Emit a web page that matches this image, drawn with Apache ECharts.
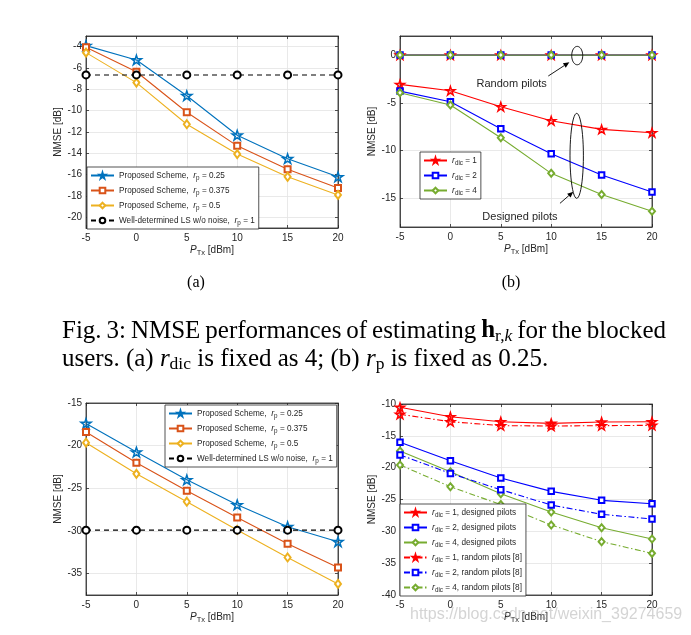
<!DOCTYPE html>
<html><head><meta charset="utf-8">
<script src="https://cdn.jsdelivr.net/npm/echarts@6/dist/echarts.min.js"></script>
<style>html,body{margin:0;padding:0;background:#fff}#c{width:691px;height:635px}</style>
</head><body><div id="c"></div><script>
// ---------- data ----------
const xValues = [-5, 0, 5, 10, 15, 20];
const xTicks = [-5, 0, 5, 10, 15, 20];
// (a) r_dic fixed as 4
const aProp025  = [-3.9, -5.25, -8.6, -12.3, -14.5, -16.2];
const aProp0375 = [-4.06, -6.35, -10.15, -13.3, -15.5, -17.25];
const aProp05   = [-4.56, -7.37, -11.27, -14.07, -16.2, -17.9];
const aLS       = [-6.65, -6.65, -6.65, -6.65, -6.65, -6.65];
const aYTicks = [-20, -18, -16, -14, -12, -10, -8, -6, -4];
// (b) r_p fixed as 0.25
const bDesigned1 = [-3.07, -3.73, -5.41, -6.87, -7.78, -8.13];
const bDesigned2 = [-3.77, -4.88, -7.71, -10.32, -12.56, -14.34];
const bDesigned4 = [-3.94, -5.23, -8.65, -12.38, -14.6, -16.36];
const bRandom1 = [0, 0, 0, 0, 0, 0];
const bRandom2 = [0, 0, 0, 0, 0, 0];
const bRandom4 = [0, 0, 0, 0, 0, 0];
const bYTicks = [-15, -10, -5, 0];
// (c)
const cProp025  = [-17.4, -20.75, -24.0, -26.93, -29.5, -31.26];
const cProp0375 = [-18.39, -22.0, -25.28, -28.43, -31.5, -34.29];
const cProp05   = [-19.65, -23.3, -26.57, -29.88, -33.1, -36.2];
const cLS       = [-29.9, -29.9, -29.9, -29.9, -29.9, -29.9];
const cYTicks = [-35, -30, -25, -20, -15];
// (d)
const dDesigned1 = [-10.52, -12.0, -12.78, -13.04, -12.83, -12.78];
const dDesigned2 = [-16.0, -18.9, -21.62, -23.72, -25.13, -25.66];
const dDesigned4 = [-17.38, -20.63, -24.08, -26.96, -29.43, -31.2];
const dRandom1 = [-11.62, -12.78, -13.4, -13.46, -13.4, -13.35];
const dRandom2 = [-18.0, -20.9, -23.46, -25.87, -27.33, -28.06];
const dRandom4 = [-19.58, -22.99, -25.8, -29.0, -31.62, -33.46];
const dYTicks = [-40, -35, -30, -25, -20, -15, -10];

// ---------- style ----------
const FONT = 'Liberation Sans';
const SERIF = 'Liberation Serif';
const AX = '#262626';
const GRIDC = '#e3e3e3';
const C_BLUE = '#0072BD', C_ORANGE = '#D95319', C_YELLOW = '#EDB120';
const C_R = '#FF0000', C_B = '#0000FF', C_G = '#77AC30';
const STAR = 'path://M50,2 L61.2,36.2 L97.6,36.2 L68.2,57.6 L79.4,92 L50,70.8 L20.6,92 L31.8,57.6 L2.4,36.2 L38.8,36.2 Z';
const DASHDOT = [6, 2.5, 1.5, 2.5];

const grids = [
  {left: 86, top: 36, width: 252, height: 192},
  {left: 400, top: 36, width: 252, height: 191},
  {left: 86, top: 403, width: 252, height: 192},
  {left: 400, top: 404, width: 252, height: 191}
];
const yRanges = [[-21, -3, aYTicks], [-18, 2, bYTicks], [-37.5, -15, cYTicks], [-40, -10, dYTicks]];

const nameRich = {
  i: {fontStyle: 'italic', fontSize: 10, fontFamily: FONT, color: AX},
  s: {fontSize: 7.5, fontFamily: FONT, color: AX, padding: [6, 0, 0, 0]},
  n: {fontSize: 10, fontFamily: FONT, color: AX}
};

const xAxes = [], yAxes = [];
grids.forEach((g, i) => {
  xAxes.push({
    type: 'value', gridIndex: i, min: -5, max: 20, position: 'bottom',
    axisLine: {onZero: false, lineStyle: {color: AX, width: 0.8}},
    axisTick: {inside: true, length: 3, lineStyle: {color: AX, width: 0.8}, customValues: xTicks},
    axisLabel: {customValues: xTicks, fontFamily: FONT, fontSize: 10, color: AX, margin: 5},
    splitLine: {show: true, lineStyle: {color: GRIDC, width: 0.8}},
    name: '{i|P}{s|Tx}{n| [dBm]}', nameLocation: 'middle', nameGap: 15,
    nameTextStyle: {rich: nameRich}
  });
  yAxes.push({
    type: 'value', gridIndex: i, min: yRanges[i][0], max: yRanges[i][1], position: 'left',
    axisLine: {onZero: false, lineStyle: {color: AX, width: 0.8}},
    axisTick: {inside: true, length: 3, lineStyle: {color: AX, width: 0.8}, customValues: yRanges[i][2]},
    axisLabel: {customValues: yRanges[i][2], fontFamily: FONT, fontSize: 10, color: AX, margin: 4},
    splitLine: {show: true, lineStyle: {color: GRIDC, width: 0.8}},
    name: 'NMSE [dB]', nameLocation: 'middle', nameGap: 20, nameRotate: 90,
    nameTextStyle: {fontFamily: FONT, fontSize: 10, color: AX}
  });
});
grids.forEach((g, i) => {
  xAxes.push({
    type: 'value', gridIndex: i, min: -5, max: 20, position: 'top',
    axisLine: {onZero: false, lineStyle: {color: AX, width: 0.8}},
    axisTick: {inside: true, length: 3, lineStyle: {color: AX, width: 0.8}, customValues: xTicks},
    axisLabel: {show: false}, splitLine: {show: false}
  });
  yAxes.push({
    type: 'value', gridIndex: i, min: yRanges[i][0], max: yRanges[i][1], position: 'right',
    axisLine: {onZero: false, lineStyle: {color: AX, width: 0.8}},
    axisTick: {inside: true, length: 3, lineStyle: {color: AX, width: 0.8}, customValues: yRanges[i][2]},
    axisLabel: {show: false}, splitLine: {show: false}
  });
});

function pts(arr) { return xValues.map((x, k) => [x, arr[k]]); }
function ser(name, gi, arr, color, symbol, size, dash, z) {
  const isStar = symbol === STAR;
  return {
    name: name, type: 'line', xAxisIndex: gi, yAxisIndex: gi, data: pts(arr),
    symbol: symbol, symbolSize: size, symbolKeepAspect: true, showSymbol: true,
    lineStyle: {color: color, width: 1.1, type: dash || 'solid'},
    itemStyle: {color: isStar ? 'rgba(255,255,255,0)' : color, borderColor: color, borderWidth: isStar ? 1.5 : 1.1},
    emphasis: {disabled: true}, animation: false, z: z || 2
  };
}

const series = [
  ser('a1', 0, aProp025, C_BLUE, STAR, 10),
  ser('a2', 0, aProp0375, C_ORANGE, 'emptyRect', 6),
  ser('a3', 0, aProp05, C_YELLOW, 'emptyDiamond', [6, 8]),
  ser('a4', 0, aLS, '#000000', 'emptyCircle', 7, [5, 4]),
  ser('bR1', 1, bRandom1, C_R, STAR, 9),
  ser('bR2', 1, bRandom2, C_B, 'emptyRect', 5.5),
  ser('bR4', 1, bRandom4, C_G, 'emptyDiamond', [6, 7]),
  ser('b1', 1, bDesigned1, C_R, STAR, 9),
  ser('b2', 1, bDesigned2, C_B, 'emptyRect', 5.5),
  ser('b4', 1, bDesigned4, C_G, 'emptyDiamond', [6, 7]),
  ser('c1', 2, cProp025, C_BLUE, STAR, 10),
  ser('c2', 2, cProp0375, C_ORANGE, 'emptyRect', 6),
  ser('c3', 2, cProp05, C_YELLOW, 'emptyDiamond', [6, 8]),
  ser('c4', 2, cLS, '#000000', 'emptyCircle', 7, [5, 4]),
  ser('d1', 3, dDesigned1, C_R, STAR, 9),
  ser('d2', 3, dDesigned2, C_B, 'emptyRect', 5.5),
  ser('d4', 3, dDesigned4, C_G, 'emptyDiamond', [6, 7]),
  ser('dR1', 3, dRandom1, C_R, STAR, 9, DASHDOT),
  ser('dR2', 3, dRandom2, C_B, 'emptyRect', 5.5, DASHDOT),
  ser('dR4', 3, dRandom4, C_G, 'emptyDiamond', [6, 7], DASHDOT)
];

const legendText = {
  a1: 'Proposed Scheme,  {i|r}{s|p} = 0.25', a2: 'Proposed Scheme,  {i|r}{s|p} = 0.375',
  a3: 'Proposed Scheme,  {i|r}{s|p} = 0.5', a4: 'Well-determined LS w/o noise,  {i|r}{s|p} = 1',
  b1: '{i|r}{s|dic} = 1', b2: '{i|r}{s|dic} = 2', b4: '{i|r}{s|dic} = 4',
  d1: '{i|r}{s|dic} = 1, designed pilots', d2: '{i|r}{s|dic} = 2, designed pilots', d4: '{i|r}{s|dic} = 4, designed pilots',
  dR1: '{i|r}{s|dic} = 1, random pilots [8]', dR2: '{i|r}{s|dic} = 2, random pilots [8]', dR4: '{i|r}{s|dic} = 4, random pilots [8]'
};
legendText.c1 = legendText.a1; legendText.c2 = legendText.a2; legendText.c3 = legendText.a3; legendText.c4 = legendText.a4;

const legRich = {
  i: {fontStyle: 'italic', fontSize: 8.8, fontFamily: FONT, color: AX},
  s: {fontSize: 6.3, fontFamily: FONT, color: AX, padding: [5, 0, 0, 0]}
};
function legend(names, left, top) {
  return {
    data: names, orient: 'vertical', left: left, top: top, selectedMode: false,
    itemWidth: 23, itemHeight: 7, itemGap: 2, padding: [2, 4, 2, 3],
    backgroundColor: '#fff', borderColor: AX, borderWidth: 0.8, borderRadius: 0,
    formatter: n => legendText[n],
    textStyle: {fontFamily: FONT, fontSize: 8.2, color: AX, lineHeight: 13, rich: legRich}
  };
}

const chart = echarts.init(document.getElementById('c'), null, {renderer: 'canvas'});
chart.setOption({
  animation: false, backgroundColor: '#fff',
  grid: grids.map(g => Object.assign({show: true, borderColor: AX, borderWidth: 0.8, backgroundColor: 'rgba(0,0,0,0)'}, g)),
  xAxis: xAxes, yAxis: yAxes, series: series,
  legend: [
    legend(['a1', 'a2', 'a3', 'a4'], 87, 167),
    legend(['b1', 'b2', 'b4'], 420, 152),
    legend(['c1', 'c2', 'c3', 'c4'], 165, 405),
    legend(['d1', 'd2', 'd4', 'dR1', 'dR2', 'dR4'], 400, 504)
  ]
});

// ---------- annotations (positioned via data coordinates of panel b) ----------
function px(d) { return chart.convertToPixel({gridIndex: 1}, d); }
function ellipse(cData, rx, ry) {
  const c = px(cData), p = [];
  for (let k = 0; k < 48; k++) { const t = k / 48 * Math.PI * 2; p.push([c[0] + rx * Math.cos(t), c[1] + ry * Math.sin(t)]); }
  return {type: 'polygon', shape: {points: p}, style: {fill: 'none', stroke: '#000', lineWidth: 0.9}, z: 50};
}
function arrow(tD, hD) {
  const t = px(tD), h = px(hD);
  const dx = h[0] - t[0], dy = h[1] - t[1], L = Math.hypot(dx, dy), ux = dx / L, uy = dy / L;
  const hl = 6, hw = 2.6, bx = h[0] - ux * hl, by = h[1] - uy * hl;
  return [
    {type: 'line', shape: {x1: t[0], y1: t[1], x2: bx, y2: by}, style: {stroke: '#000', lineWidth: 0.9}, z: 50},
    {type: 'polygon', shape: {points: [[h[0], h[1]], [bx - uy * hw, by + ux * hw], [bx + uy * hw, by - ux * hw]]}, style: {fill: '#000'}, z: 50}
  ];
}
function label(txt, d) {
  const p = px(d);
  return {type: 'text', x: p[0], y: p[1], style: {text: txt, fontFamily: FONT, fontSize: 11, fill: AX, align: 'center', verticalAlign: 'middle'}, z: 50};
}

// ---------- caption (justified first line) ----------
const CAP = 25, SUB = 17.5;
const capRich = {
  b: {fontFamily: SERIF, fontWeight: 'bold', fontSize: CAP, fill: '#000'},
  s: {fontFamily: SERIF, fontSize: SUB, fill: '#000', padding: [10, 0, 0, 0]},
  si: {fontFamily: SERIF, fontStyle: 'italic', fontSize: SUB, fill: '#000', padding: [10, 0, 0, 0]},
  i: {fontFamily: SERIF, fontStyle: 'italic', fontSize: CAP, fill: '#000'}
};
const mc = document.createElement('canvas').getContext('2d');
function tw(t, size, style, weight) {
  mc.font = (style || 'normal') + ' normal ' + (weight || 'normal') + ' ' + size + 'px "' + SERIF + '"';
  return mc.measureText(t).width;
}
const capWords = ['Fig.', '3:', 'NMSE', 'performances', 'of', 'estimating', '{b|h}{s|r,}{si|k}', 'for', 'the', 'blocked'];
const capWidths = capWords.map(w => w.charAt(0) === '{'
  ? tw('h', CAP, 'normal', 'bold') + tw('r,', SUB) + tw('k', SUB, 'italic')
  : tw(w, CAP));
const capLeft = 62, capRight = 666;
const capGap = (capRight - capLeft - capWidths.reduce((a, b) => a + b, 0)) / (capWords.length - 1);
const capEls = [];
let cx = capLeft;
capWords.forEach((w, k) => {
  capEls.push({type: 'text', x: cx, y: 331, style: {text: w, fontFamily: SERIF, fontSize: CAP, fill: '#000', verticalAlign: 'middle', rich: capRich}});
  cx += capWidths[k] + capGap;
});

const graphics = [].concat(
  [ellipse([12.58, -0.05], 5.5, 9.2), ellipse([12.53, -10.55], 6.7, 42.5)],
  arrow([9.71, -2.19], [11.8, -0.75]),
  arrow([10.87, -15.52], [12.2, -14.3]),
  [label('Random pilots', [6.08, -3.03]), label('Designed pilots', [6.9, -16.92])],
  capEls,
  [
    {type: 'text', x: 196, y: 283, style: {text: '(a)', fontFamily: SERIF, fontSize: 16, fill: '#000', align: 'center', verticalAlign: 'middle'}},
    {type: 'text', x: 511, y: 283, style: {text: '(b)', fontFamily: SERIF, fontSize: 16, fill: '#000', align: 'center', verticalAlign: 'middle'}},
    {type: 'text', x: 62, y: 359, style: {text: 'users. (a) {i|r}{s|dic} is fixed as 4; (b) {i|r}{s|p} is fixed as 0.25.', fontFamily: SERIF, fontSize: CAP, fill: '#000', verticalAlign: 'middle', rich: capRich}},
    {type: 'text', x: 410, y: 615, z: 100, style: {text: 'https://blog.csdn.net/weixin_39274659', fontFamily: FONT, fontSize: 16, fill: 'rgba(160,160,160,0.45)', verticalAlign: 'middle'}}
  ]
);
chart.setOption({graphic: graphics});
</script></body></html>
